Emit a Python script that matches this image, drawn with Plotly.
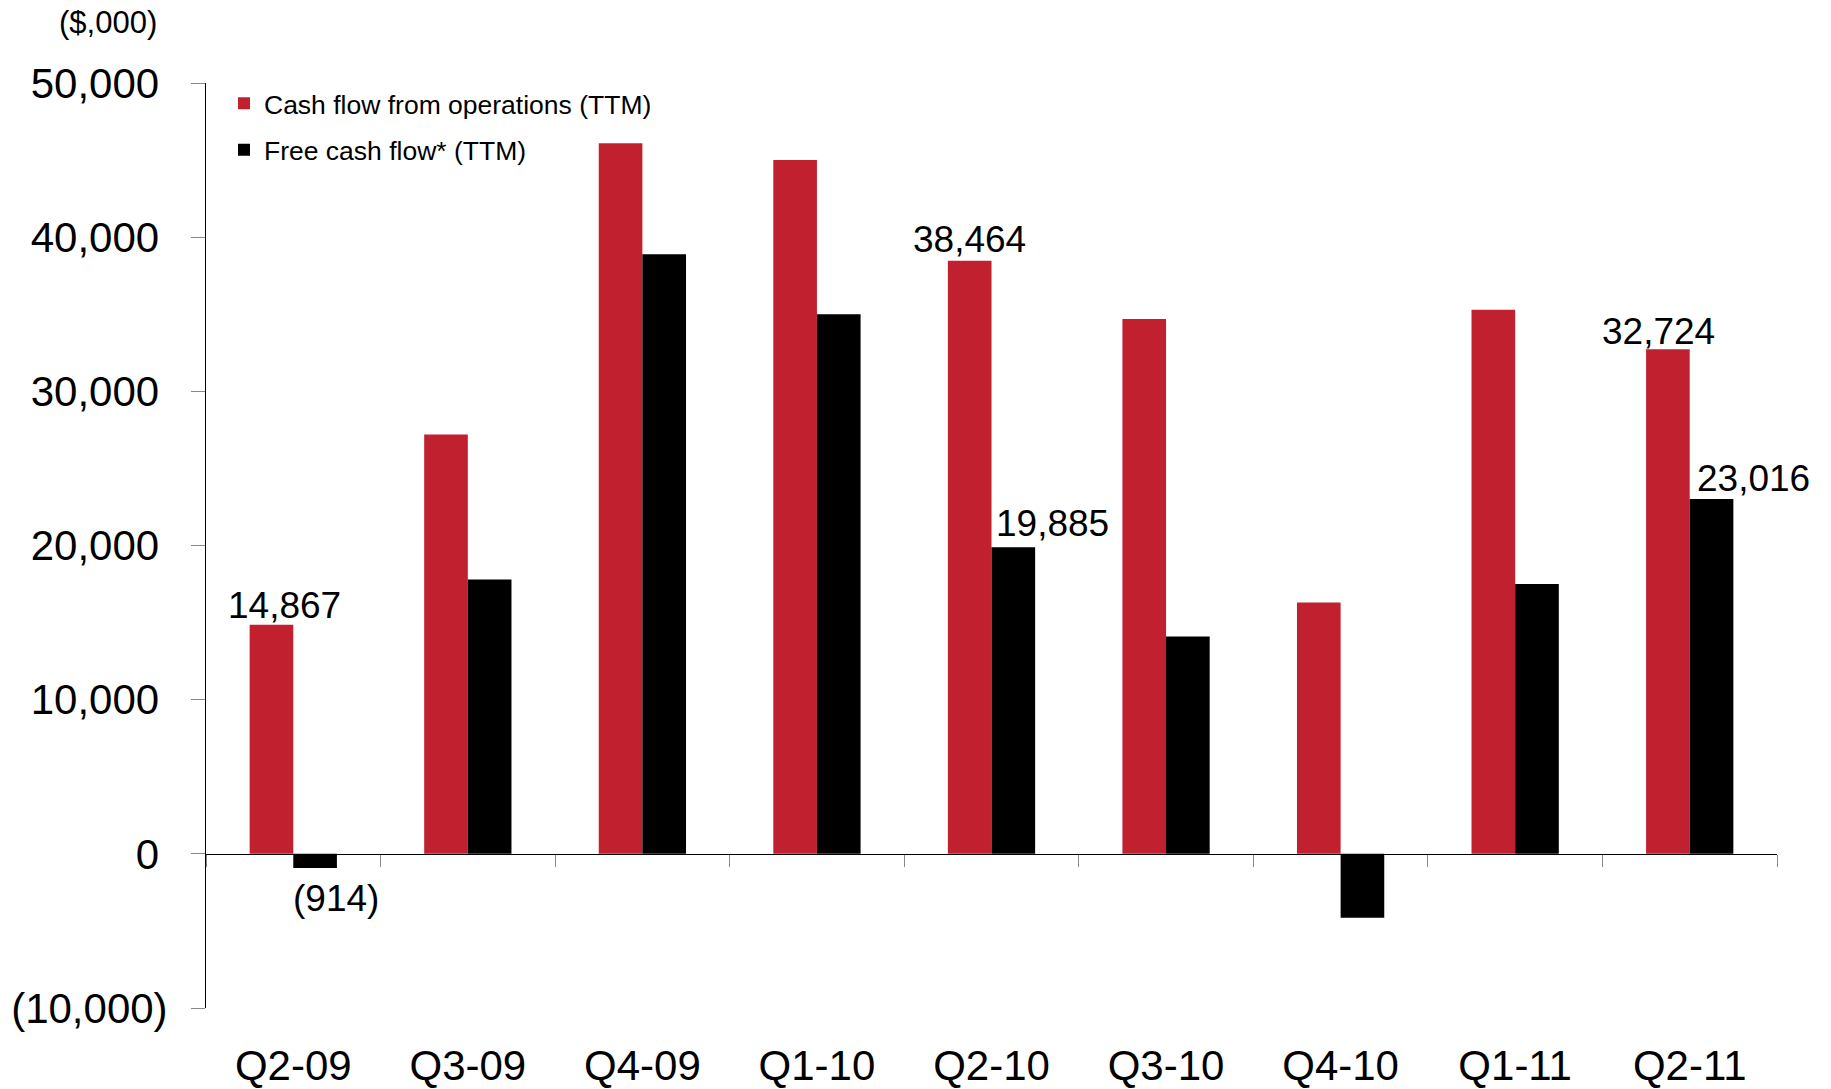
import plotly.graph_objects as go

categories = ["Q2-09", "Q3-09", "Q4-09", "Q1-10", "Q2-10", "Q3-10", "Q4-10", "Q1-11", "Q2-11"]
cfo_ttm = [14867, 27200, 46100, 45000, 38464, 34700, 16300, 35300, 32724]
fcf_ttm = [-914, 17800, 38900, 35000, 19885, 14100, -4150, 17500, 23016]
series_names = ["Cash flow from operations (TTM)", "Free cash flow* (TTM)"]
y_tickvals = [-10000, 0, 10000, 20000, 30000, 40000, 50000]
y_ticktext = ["(10,000)", "0", "10,000", "20,000", "30,000", "40,000", "50,000"]
unit_label = "($,000)"

RED = "#C1202E"
BLACK = "#000000"
FONT = "Arial, Liberation Sans, sans-serif"

W, H = 1831, 1089
ml, mr, mt, mb = 206, 53.5, 82.5, 81.2
pw, ph = W - ml - mr, H - mt - mb

fig = go.Figure()
fig.add_trace(go.Bar(x=categories, y=cfo_ttm, name=series_names[0], marker_color=RED,
                     marker_line_width=0, legendgroup="a", hoverinfo="x+y"))
fig.add_trace(go.Bar(x=categories, y=fcf_ttm, name=series_names[1], marker_color=BLACK,
                     marker_line_width=0, legendgroup="b", hoverinfo="x+y"))
# helper trace so the zero-line category axis (x2) is drawn
fig.add_trace(go.Scatter(x=categories, y=[None] * len(categories), xaxis="x2", yaxis="y",
                         mode="markers", marker_opacity=0, showlegend=False, hoverinfo="skip"))

def fmt(v):
    return f"({abs(v):,})" if v < 0 else f"{v:,}"

# labelled points: (series, category index, xshift, yshift)
label_spec = [
    (0, 0, 13, -3),
    (1, 0, 21, -8),
    (0, 4, 0, -1),
    (1, 4, 39, 1),
    (0, 8, -9, -5),
    (1, 8, 42, -2),
]
series_vals = [cfo_ttm, fcf_ttm]
for s, i, dx, dy in label_spec:
    v = series_vals[s][i]
    xpos = i + (-0.125 if s == 0 else 0.125)
    neg = v < 0
    fig.add_annotation(x=xpos, y=v, xref="x", yref="y", text=fmt(v), showarrow=False,
                       xanchor="center", yanchor="top" if neg else "bottom",
                       xshift=dx, yshift=dy, font=dict(family=FONT, size=37, color="black"))

fig.add_annotation(x=(108 - ml) / pw, y=(H - mb - 22) / ph, xref="paper", yref="paper",
                   xanchor="center", yanchor="middle",
                   text=unit_label, showarrow=False,
                   font=dict(family=FONT, size=31, color="black"))

# positive labels get a small trailing pad so parenthesised negatives hang right (Excel style)
y_ticktext_padded = [t if t.startswith("(") else t + "\u2009" for t in y_ticktext]

fig.update_layout(
    width=W, height=H,
    margin=dict(l=ml, r=mr, t=mt, b=mb, pad=0, autoexpand=False),
    paper_bgcolor="white", plot_bgcolor="white",
    barmode="group", bargap=0.5, bargroupgap=0,
    font=dict(family=FONT, color="black"),
    showlegend=True,
    legend=dict(x=(224 - ml) / pw, y=(H - mb - 79) / ph, xanchor="left", yanchor="top",
                font=dict(family=FONT, size=26.5, color="black"), bgcolor="rgba(0,0,0,0)",
                tracegroupgap=9, itemsizing="constant"),
    xaxis=dict(type="category", categoryorder="array", categoryarray=categories,
               range=[-0.5, len(categories) - 0.5], showline=False, ticks="",
               showgrid=False, zeroline=False, tickfont=dict(family=FONT, size=42, color="black"),
               ticklabelstandoff=29, automargin=False),
    xaxis2=dict(type="category", categoryorder="array", categoryarray=categories,
                overlaying="x", anchor="free", position=1 / 6,
                range=[-0.5, len(categories) - 0.5], showline=True, linecolor="black", linewidth=1,
                ticks="outside", tickson="boundaries", ticklen=12, tickcolor="#888888", tickwidth=1,
                showticklabels=False, showgrid=False, zeroline=False, automargin=False),
    yaxis=dict(range=[-10000, 50000], tickvals=y_tickvals, ticktext=y_ticktext_padded,
               showline=True, linecolor="black", linewidth=1, ticks="outside", ticklen=14,
               tickcolor="#888888", tickwidth=1, showgrid=False, zeroline=False,
               tickfont=dict(family=FONT, size=42, color="black"), ticklabelstandoff=15,
               automargin=False),
)

fig.write_html("out.html")
